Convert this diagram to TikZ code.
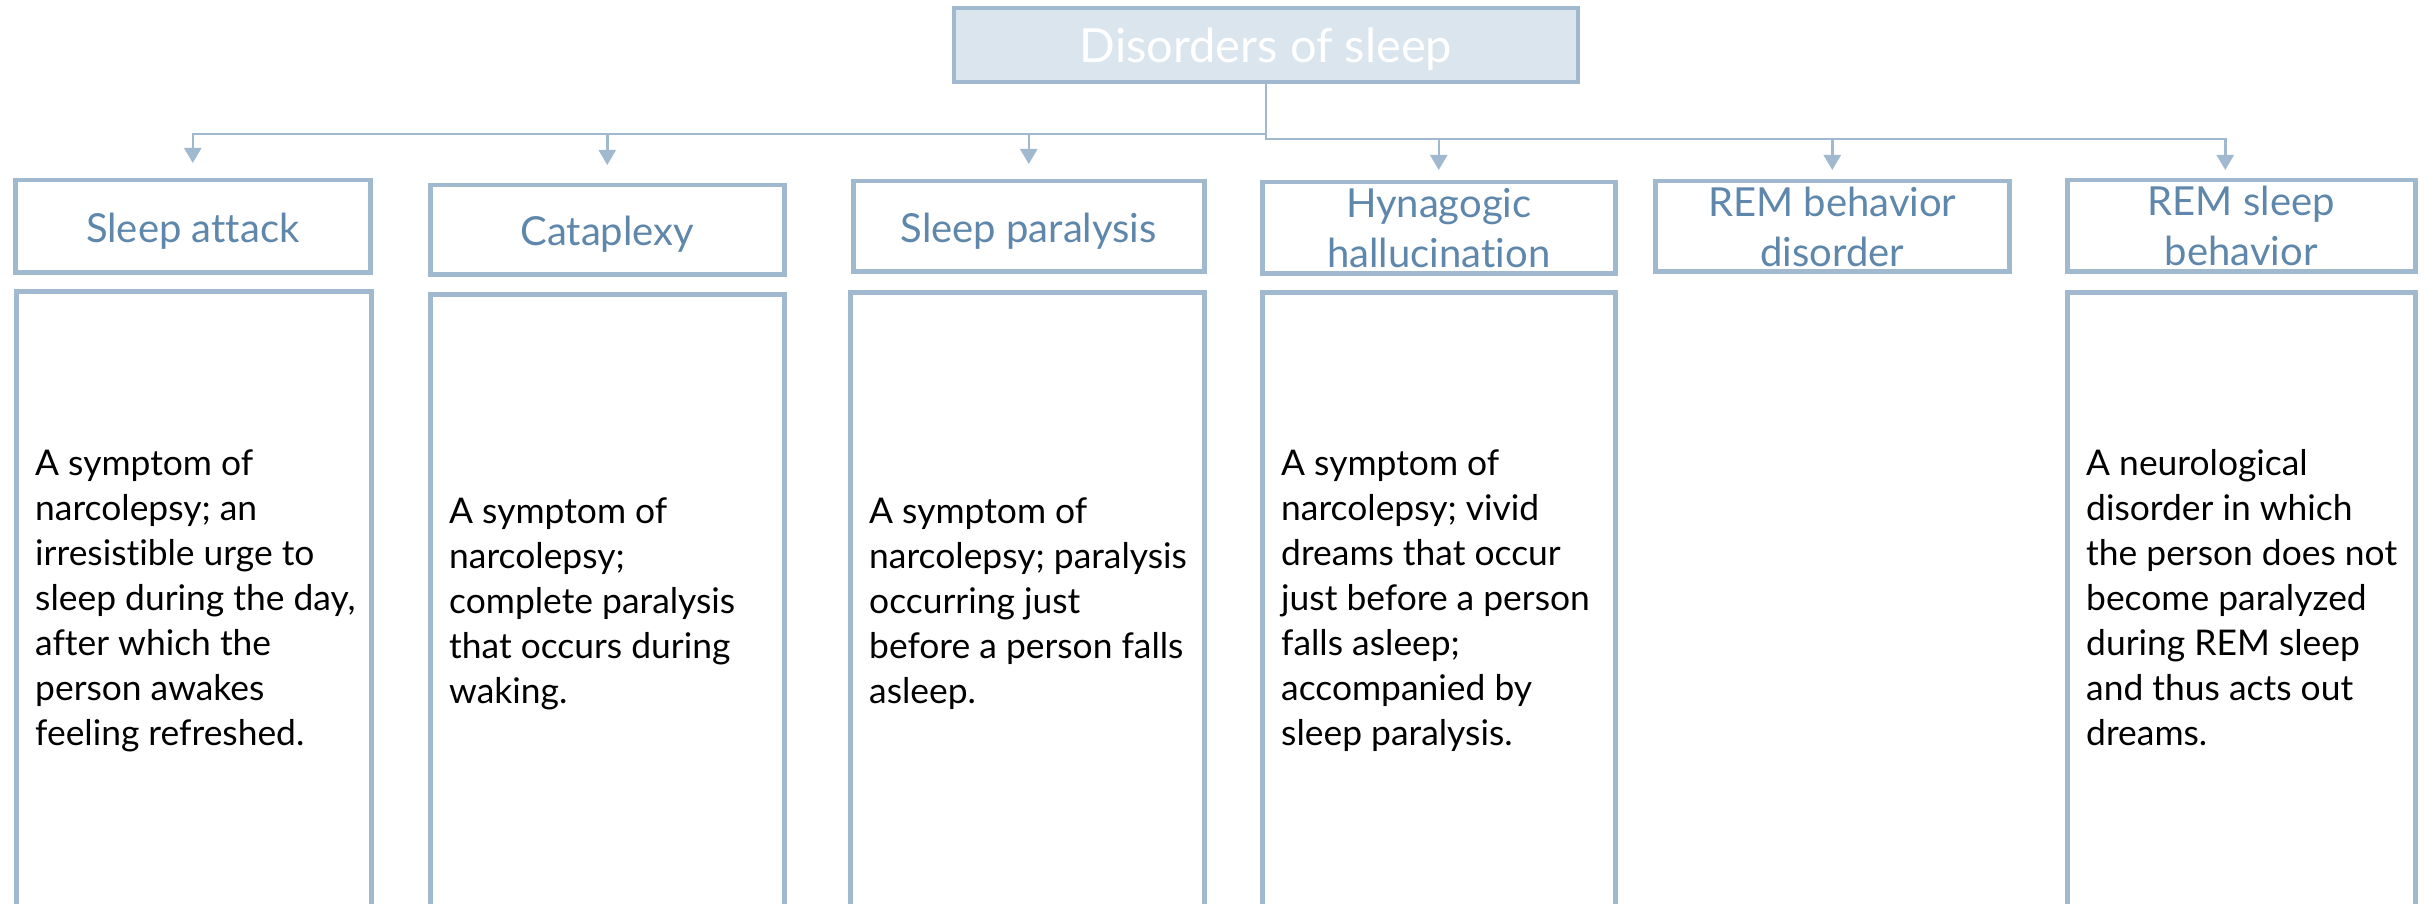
\documentclass[tikz,border=0pt]{standalone}
\usepackage{fontspec}
\setmainfont{Lato}[Ligatures=NoCommon]
\usetikzlibrary{arrows.meta}

\definecolor{edge}{RGB}{161,185,207}
\definecolor{titlefill}{RGB}{219,229,238}
\definecolor{headink}{RGB}{94,135,171}

\tikzset{
  frame/.style={draw=edge, line width=4.5pt, inner sep=0pt},
  titlebox/.style={frame, fill=titlefill, minimum width=624pt, minimum height=74pt,
    text=white, font=\fontsize{47}{56}\selectfont, text height=36pt, text depth=0pt},
  headbox/.style={frame, anchor=north west, text=headink, align=center,
    font=\fontsize{40}{50}\selectfont},
  oneline/.style={text height=32pt, text depth=0pt},
  twoline/.style={text height=80pt, text depth=0pt},
  bodybox/.style={frame, anchor=north west, minimum height=660pt},
  % anchored on the baseline of the last line
  bodytext/.style={anchor=base west, align=left, inner sep=0pt,
    font=\fontsize{35.4}{45}\selectfont},
  conn/.style={draw=edge, line width=2.5pt,
    -{Triangle[width=17pt,length=15pt]}},
}

\begin{document}
\begin{tikzpicture}[x=1pt, y=-1pt]
  \path[use as bounding box] (0,0) rectangle (2425,904);
  \clip (0,0) rectangle (2425,904);

  % root
  \node[titlebox] (title) at (1266,45) {Disorders of sleep};

  % category headers
  \node[headbox, oneline, minimum width=355pt, minimum height=92pt] (h1) at (13,178) {Sleep attack};
  \node[headbox, oneline, minimum width=354pt, minimum height=89pt] (h2) at (428,183) {Cataplexy};
  \node[headbox, oneline, minimum width=351pt, minimum height=90pt] (h3) at (851,179) {Sleep paralysis};
  \node[headbox, twoline, minimum width=353pt, minimum height=91pt] (h4) at (1260,180) {Hynagogic\\hallucination};
  \node[headbox, twoline, minimum width=354pt, minimum height=90pt] (h5) at (1653,179) {REM behavior\\disorder};
  \node[headbox, twoline, minimum width=348pt, minimum height=91pt] (h6) at (2065,178) {REM sleep\\behavior};

  % description panels
  \node[bodybox, minimum width=355pt] (b1) at (14,289) {};
  \node[bodybox, minimum width=354pt] (b2) at (428,292) {};
  \node[bodybox, minimum width=354pt] (b3) at (848,290) {};
  \node[bodybox, minimum width=353pt] (b4) at (1260,290) {};
  \node[bodybox, minimum width=348pt] (b6) at (2065,290) {};

  \node[bodytext] (d1) at (35,745) {A symptom of\\narcolepsy; an\\irresistible urge to\\sleep during the day,\\after which the\\person awakes\\feeling refreshed.};
  \node[bodytext] (d2) at (449,703) {A symptom of\\narcolepsy;\\complete paralysis\\that occurs during\\waking.};
  \node[bodytext] (d3) at (869,703) {A symptom of\\narcolepsy; paralysis\\occurring just\\before a person falls\\asleep.};
  \node[bodytext] (d4) at (1281,745) {A symptom of\\narcolepsy; vivid\\dreams that occur\\just before a person\\falls asleep;\\accompanied by\\sleep paralysis.};
  \node[bodytext] (d6) at (2086,745) {A neurological\\disorder in which\\the person does not\\become paralyzed\\during REM sleep\\and thus acts out\\dreams.};

  % elbow connectors from the root
  \draw[conn] (title.south) -- ++(0,50) -| ([yshift=15pt]h1.north);
  \draw[conn] (title.south) -- ++(0,50) -| ([yshift=18pt]h2.north);
  \draw[conn] (title.south) -- ++(0,50) -| ([yshift=15pt]h3.north);
  \draw[conn] (title.south) -- ++(0,55) -| ([yshift=10pt]h4.north);
  \draw[conn] (title.south) -- ++(0,55) -| ([yshift=9pt]h5.north);
  \draw[conn] (title.south) -- ++(0,55) -| ([xshift=-16pt,yshift=8pt]h6.north);
\end{tikzpicture}
\end{document}
